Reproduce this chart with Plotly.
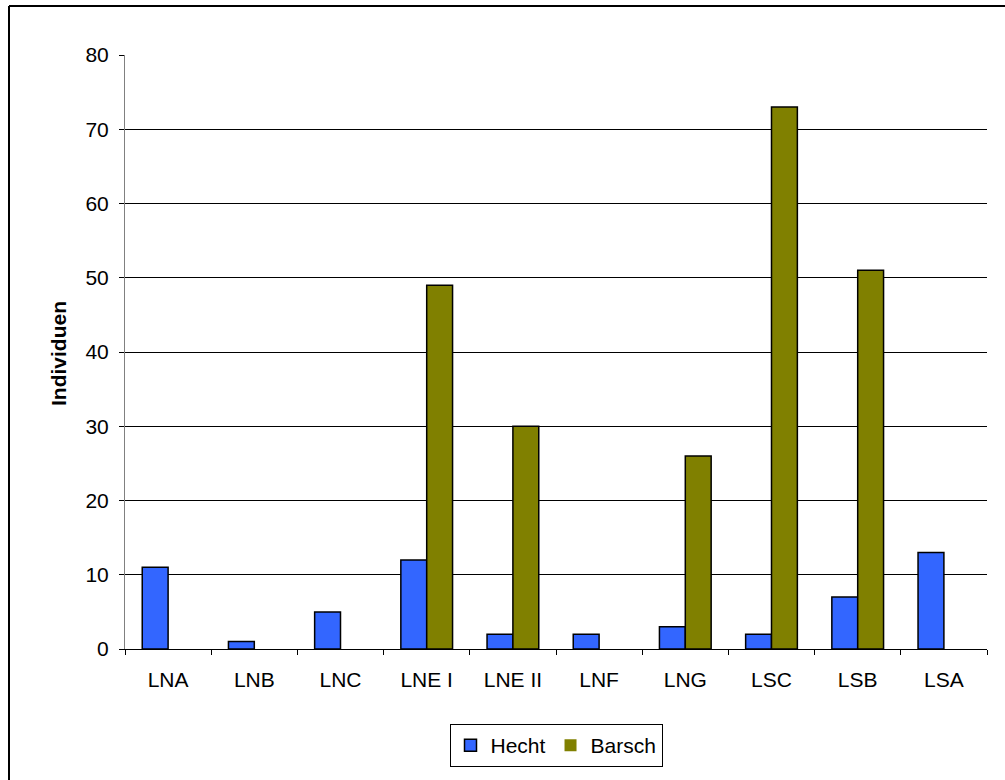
import plotly.graph_objects as go

categories = ["LNA", "LNB", "LNC", "LNE I", "LNE II", "LNF", "LNG", "LSC", "LSB", "LSA"]
hecht = [11, 1, 5, 12, 2, 2, 3, 2, 7, 13]
barsch = [0, 0, 0, 49, 30, 0, 26, 73, 51, 0]
y_ticks = [0, 10, 20, 30, 40, 50, 60, 70, 80]

FONT = "Liberation Sans, Arial, sans-serif"
FS = 21

def outline(vals):
    return [1.5 if v else 0 for v in vals]

fig = go.Figure()
fig.add_trace(go.Bar(name="Hecht", x=categories, y=hecht,
                     marker=dict(color="#3366FF", line=dict(color="black", width=outline(hecht)))))
fig.add_trace(go.Bar(name="Barsch", x=categories, y=barsch,
                     marker=dict(color="#808000", line=dict(color="black", width=outline(barsch)))))

L, R, T, B = 125, 18, 55, 131
W, H = 1005, 780
pw, ph = W - L - R, H - T - B

fig.update_layout(
    width=W, height=H,
    margin=dict(l=L, r=R, t=T, b=B, pad=0),
    paper_bgcolor="white", plot_bgcolor="white",
    barmode="group", bargap=0.4, bargroupgap=0,
    font=dict(family=FONT, size=FS, color="black"),
    showlegend=True,
    legend=dict(orientation="h", x=0.5, xanchor="center", y=(649 - 724) / ph, yanchor="top",
                bordercolor="black", borderwidth=1, font=dict(size=FS),
                itemwidth=30, tracegroupgap=0),
    xaxis=dict(type="category", tickson="boundaries", ticks="outside", ticklen=5,
               tickcolor="black", showline=True, linecolor="black", linewidth=1,
               showgrid=False, ticklabelstandoff=12, tickfont=dict(size=FS)),
    yaxis=dict(range=[0, 80], tickvals=y_ticks, ticks="outside", ticklen=5,
               tickcolor="black", showline=True, linecolor="#808080", linewidth=1,
               showgrid=True, gridcolor="black", gridwidth=1, zeroline=False,
               ticklabelstandoff=6, tickfont=dict(size=FS)),
)

fig.add_annotation(text="<b>Individuen</b>", xref="paper", yref="paper",
                   x=(58 - L) / pw, y=(649 - 354) / ph, textangle=-90,
                   showarrow=False, font=dict(size=FS, family=FONT),
                   xanchor="center", yanchor="middle")

# outer chart frame: only left and top edges are inside the picture
fig.add_shape(type="line", xref="paper", yref="paper",
              x0=(9 - L) / pw, x1=(9 - L) / pw, y0=(649 - 790) / ph, y1=(649 - 6) / ph,
              line=dict(color="black", width=2), layer="below")
fig.add_shape(type="line", xref="paper", yref="paper",
              x0=(9 - L) / pw, x1=(1010 - L) / pw, y0=(649 - 6) / ph, y1=(649 - 6) / ph,
              line=dict(color="black", width=2), layer="below")

fig.write_html("out.html")
